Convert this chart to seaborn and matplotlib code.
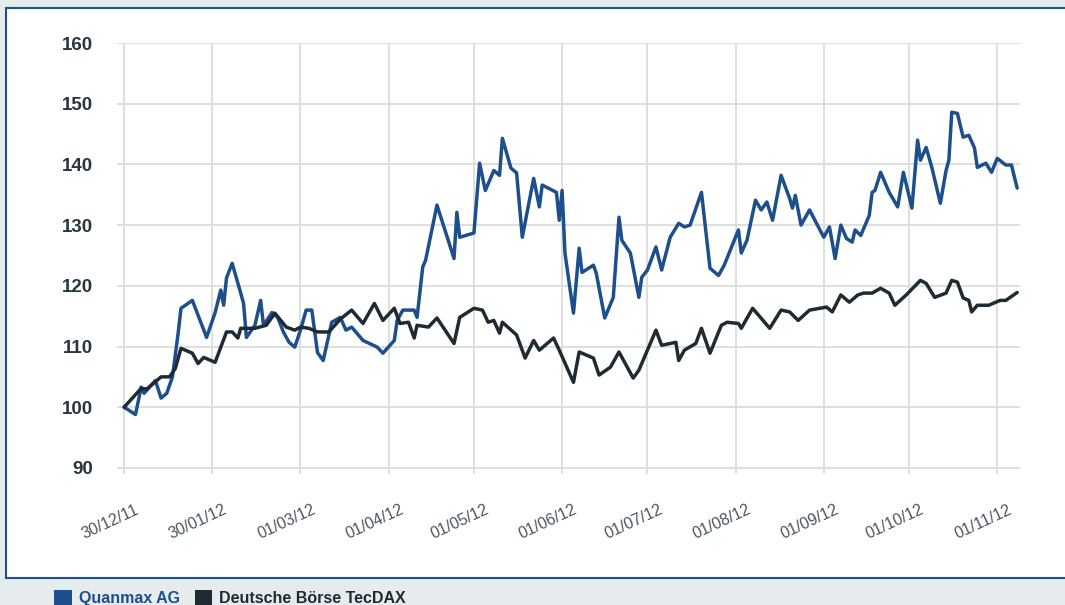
import matplotlib
matplotlib.use("Agg")
import matplotlib.pyplot as plt
import matplotlib.transforms as mtransforms
from matplotlib.patches import Rectangle, Patch
import seaborn as sns
import pandas as pd

# days since 30/12/2011 and index values
quanmax_days = [0, 4, 6, 7, 11, 13, 15, 17, 19, 20, 24, 29, 32, 34, 35, 36, 38, 41, 42, 43,
                46, 48, 49, 52, 54, 56, 58, 60, 62, 64, 66, 68, 70, 73, 76, 78, 80, 84, 89, 91,
                95, 96, 98, 102, 103, 105, 106, 110, 116, 117, 118, 123, 125, 127, 130, 132, 133,
                136, 138, 140, 144, 146, 147, 152, 153, 154, 155, 158, 160, 161, 165, 166, 169,
                172, 174, 175, 178, 181, 182, 184, 187, 189, 192, 195, 197, 199, 203, 206, 209,
                211, 216, 217, 219, 222, 224, 226, 228, 231, 234, 235, 236, 238, 241, 246, 248,
                250, 252, 254, 256, 257, 259, 262, 263, 264, 266, 269, 272, 274, 277, 279, 280,
                282, 284, 287, 289, 290, 291, 293, 295, 297, 299, 300, 303, 305, 307, 310, 312, 314]
quanmax = [100, 98.8, 103.3, 102.3, 104.4, 101.5, 102.3, 105, 112.2, 116.3, 117.6, 111.5, 115.6,
           119.3, 116.8, 121.3, 123.7, 118.8, 117.1, 111.5, 113.5, 117.6, 113.5, 115.6, 114.8,
           112.4, 110.7, 109.9, 112.7, 116, 116, 109, 107.7, 114, 114.8, 112.7, 113.2, 111, 109.9,
           108.9, 111, 114.3, 116, 116, 114.8, 123.1, 124.2, 133.3, 124.5, 132.1, 128, 128.7,
           140.2, 135.7, 139, 138.2, 144.3, 139.4, 138.6, 128, 137.7, 133, 136.6, 135.4, 130.8,
           135.7, 125.4, 115.5, 126.2, 122.2, 123.4, 122.1, 114.7, 118.1, 131.3, 127.5, 125.4,
           118.1, 121.4, 122.6, 126.4, 122.6, 128, 130.3, 129.7, 130, 135.4, 122.9, 121.7, 123.4,
           129.2, 125.4, 127.5, 134.1, 132.5, 133.8, 130.8, 138.2, 134.4, 132.8, 134.9, 130,
           132.5, 128, 129.7, 124.5, 130, 127.8, 127.2, 129.2, 128.3, 131.6, 135.4, 135.7, 138.7,
           135.4, 133, 138.7, 132.8, 144, 140.7, 142.8, 139.5, 133.6, 139, 140.7, 148.6, 148.4,
           144.5, 144.8, 142.7, 139.5, 140.2, 138.7, 141, 139.9, 139.9, 136.1]

tecdax_days = [0, 6, 8, 13, 16, 18, 20, 23, 24, 26, 28, 32, 36, 38, 40, 41, 46, 50, 53, 57, 60,
               62, 65, 68, 72, 76, 80, 84, 88, 91, 95, 97, 100, 102, 103, 107, 110, 116, 118, 123,
               126, 128, 130, 132, 133, 138, 141, 144, 146, 151, 153, 158, 160, 165, 167, 171,
               174, 179, 181, 184, 187, 189, 194, 195, 197, 201, 203, 206, 210, 212, 216, 217,
               221, 227, 231, 234, 237, 241, 247, 249, 252, 255, 258, 260, 263, 266, 269, 271,
               275, 280, 282, 285, 289, 291, 293, 295, 297, 298, 300, 304, 308, 310, 314]
tecdax = [100, 103.1, 103, 105, 105, 106.4, 109.7, 109.1, 108.9, 107.2, 108.2, 107.4, 112.4,
          112.4, 111.4, 113, 113, 113.5, 115.5, 113.2, 112.7, 113.2, 113, 112.4, 112.4, 114.5,
          116, 113.8, 117.1, 114.3, 116.3, 113.8, 114, 111.4, 113.5, 113.2, 114.7, 110.5, 114.8,
          116.3, 116, 114, 114.3, 112.2, 114, 111.9, 108.1, 111, 109.4, 111.4, 109.4, 104.1,
          109.1, 108.1, 105.3, 106.6, 109.1, 104.8, 106.1, 109.4, 112.7, 110.2, 110.7, 107.7,
          109.4, 110.5, 113, 108.9, 113.5, 114, 113.8, 113, 116.3, 113, 116, 115.7, 114.3, 116,
          116.5, 115.7, 118.5, 117.3, 118.5, 118.8, 118.8, 119.6, 118.8, 116.8, 118.5, 120.9,
          120.4, 118.1, 118.8, 120.9, 120.6, 118, 117.6, 115.7, 116.8, 116.8, 117.6, 117.6, 118.9]

tick_dates = ["2011-12-30", "2012-01-30", "2012-03-01", "2012-04-01", "2012-05-01", "2012-06-01",
              "2012-07-01", "2012-08-01", "2012-09-01", "2012-10-01", "2012-11-01"]
tick_labels = ["30/12/11", "30/01/12", "01/03/12", "01/04/12", "01/05/12", "01/06/12",
               "01/07/12", "01/08/12", "01/09/12", "01/10/12", "01/11/12"]

start = pd.Timestamp("2011-12-30")
df = pd.concat([
    pd.DataFrame({"date": start + pd.to_timedelta(quanmax_days, unit="D"),
                  "value": quanmax, "series": "Quanmax AG"}),
    pd.DataFrame({"date": start + pd.to_timedelta(tecdax_days, unit="D"),
                  "value": tecdax, "series": "Deutsche Börse TecDAX"}),
])

blue = "#1d4f8c"
dark = "#1f2b33"

sns.set_style("white")
plt.rcParams["font.family"] = ["Liberation Sans", "DejaVu Sans"]

fig = plt.figure(figsize=(10.65, 6.05), dpi=100, facecolor="#e6ebee")
W, H = 1065, 605

# white frame with blue border
frame = Rectangle((6 / W, 1 - 578 / H), 1.1, (578 - 8) / H, transform=fig.transFigure,
                  facecolor="white", edgecolor="#1d5193", linewidth=1.5, zorder=-1)
fig.patches.append(frame)

ax = fig.add_axes([117 / W, 1 - 474 / H, (1020 - 117) / W, (474 - 43) / H])
ax.set_facecolor("white")

sns.lineplot(data=df, x="date", y="value", hue="series",
             palette={"Quanmax AG": blue, "Deutsche Börse TecDAX": dark},
             linewidth=2.5, legend=False, ax=ax, zorder=3)

ax.set_ylim(89, 160)
ax.set_yticks(range(90, 161, 10))
ax.set_xlim(start - pd.Timedelta(days=2.5), start + pd.Timedelta(days=315))
ax.set_xticks(pd.to_datetime(tick_dates))
ax.set_xticklabels(tick_labels)
ax.grid(True, color="#dcdcdc", linewidth=1.3)
for s in ax.spines.values():
    s.set_visible(False)
ax.set_xlabel("")
ax.set_ylabel("")

ax.tick_params(axis="y", length=0, pad=17, labelsize=13.5, labelcolor="#283640")
for lab in ax.get_yticklabels():
    lab.set_fontweight("bold")
ax.tick_params(axis="x", length=0, pad=25, labelsize=11.5, labelcolor="#4a5660")
shift = mtransforms.ScaledTranslation(14 / 100, 0, fig.dpi_scale_trans)
for lab in ax.get_xticklabels():
    lab.set_rotation(25)
    lab.set_ha("right")
    lab.set_va("center")
    lab.set_rotation_mode("anchor")
    lab.set_transform(lab.get_transform() + shift)

handles = [Patch(facecolor=blue, edgecolor="none"), Patch(facecolor=dark, edgecolor="none")]
leg = fig.legend(handles, ["Quanmax AG", "Deutsche Börse TecDAX"], loc="center left",
                 bbox_to_anchor=(40 / W, 1 - 598 / H), ncol=2, frameon=False,
                 handlelength=1.1, handleheight=1.1, handletextpad=0.45, columnspacing=0.9,
                 prop={"weight": "bold", "size": 11.5})
leg.get_texts()[0].set_color(blue)
leg.get_texts()[1].set_color(dark)

fig.savefig("out.png", dpi=100, facecolor=fig.get_facecolor())
